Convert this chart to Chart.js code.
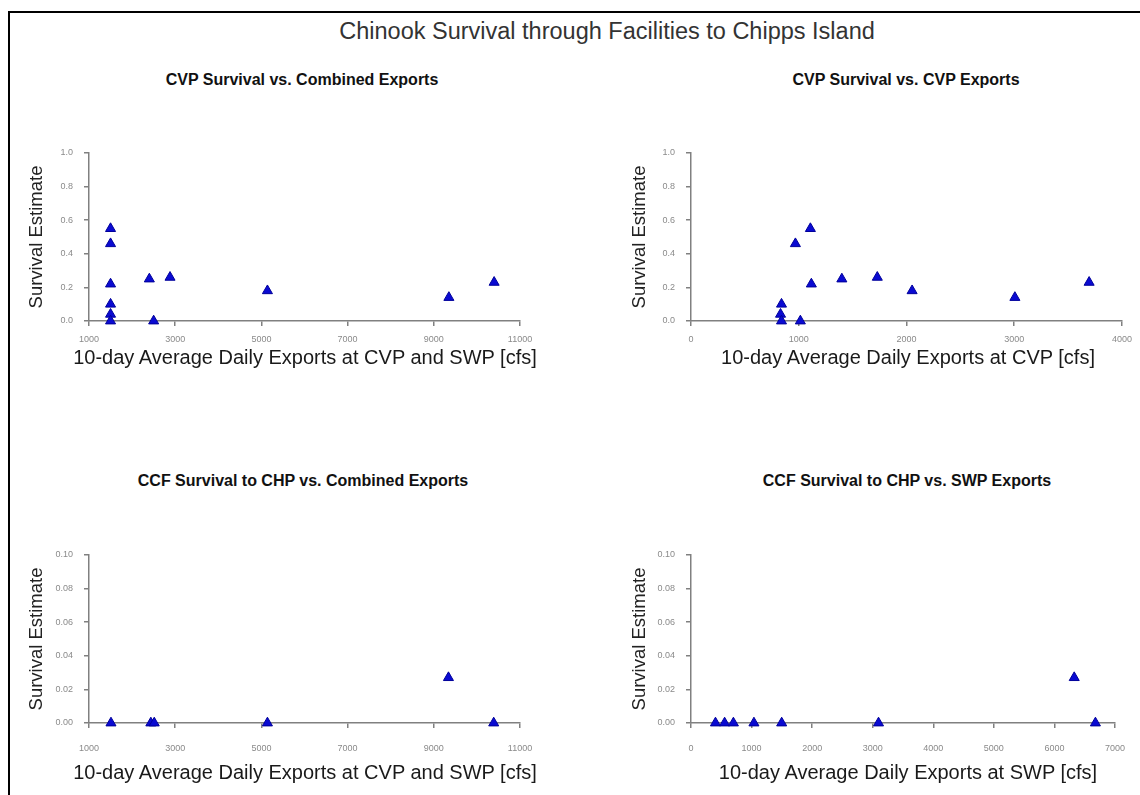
<!DOCTYPE html>
<html>
<head>
<meta charset="utf-8">
<title>Chinook Survival through Facilities to Chipps Island</title>
<script src="https://cdn.jsdelivr.net/npm/chart.js@4.4.1/dist/chart.umd.min.js"></script>
<style>
  html, body { margin: 0; padding: 0; background: #fff; }
  body { width: 1140px; height: 795px; position: relative; overflow: hidden;
         font-family: "Liberation Sans", Arial, sans-serif; }
  #frame { position: absolute; left: 8px; top: 11px; width: 1200px; height: 850px;
           border-top: 2px solid #000; border-left: 2px solid #000; }
  .t { position: absolute; white-space: nowrap; line-height: 1; transform: translateX(-50%); }
  #main { left: 607px; top: 20px; font-size: 23.5px; color: #333; }
  .sub { font-size: 16px; font-weight: bold; color: #111; }
  .xt { font-size: 20px; color: #1a1a1a; }
  .panel { position: absolute; }
</style>
</head>
<body>
<div id="frame"></div>
<div class="t" id="main">Chinook Survival through Facilities to Chipps Island</div>
<div class="t sub" style="left:302px; top:72px;">CVP Survival vs. Combined Exports</div>
<div class="t sub" style="left:906px; top:72px;">CVP Survival vs. CVP Exports</div>
<div class="t sub" style="left:303px; top:473px;">CCF Survival to CHP vs. Combined Exports</div>
<div class="t sub" style="left:907px; top:473px;">CCF Survival to CHP vs. SWP Exports</div>

<div class="panel" style="left:0px; top:130px; width:560px; height:240px;"><canvas id="p1"></canvas></div>
<div class="panel" style="left:570px; top:130px; width:570px; height:240px;"><canvas id="p2"></canvas></div>
<div class="panel" style="left:0px; top:532px; width:560px; height:253px;"><canvas id="p3"></canvas></div>
<div class="panel" style="left:570px; top:532px; width:570px; height:253px;"><canvas id="p4"></canvas></div>

<div class="t xt" id="xt1" style="left:305px; top:347px;"></div>
<div class="t xt" id="xt2" style="left:908px; top:347px;"></div>
<div class="t xt" id="xt3" style="left:305px; top:762px;"></div>
<div class="t xt" id="xt4" style="left:908px; top:762px;"></div>

<script>
// CVP release groups: survival estimate with 10-day average exports
const cvpSurvival     = [0.55, 0.46, 0.22, 0.10, 0.04, 0.00, 0.25, 0.00, 0.26, 0.18, 0.14, 0.23];
const cvpCombinedExp  = [1500, 1500, 1500, 1500, 1500, 1500, 2400, 2500, 2880, 5140, 9350, 10400];
const cvpOnlyExp      = [1108, 969, 1117, 840, 831, 840, 1400, 1015, 1729, 2052, 3006, 3695];

// CCF release groups: survival to Chipps Island
const ccfCombinedSurvival = [0.000, 0.000, 0.000, 0.000, 0.027, 0.000];
const ccfCombinedExp      = [1510, 2435, 2514, 5140, 9340, 10390];
const ccfSwpSurvival      = [0.000, 0.000, 0.000, 0.000, 0.000, 0.000, 0.027, 0.000];
const ccfSwpExp           = [404, 555, 700, 1039, 1497, 3096, 6327, 6677];

const yTitle = 'Survival Estimate';
const xTitleCombined = '10-day Average Daily Exports at CVP and SWP [cfs]';
const xTitleCvp = '10-day Average Daily Exports at CVP [cfs]';
const xTitleSwp = '10-day Average Daily Exports at SWP [cfs]';

// x-axis captions are wider than the plot areas, so they are laid out as page text
document.getElementById('xt1').textContent = xTitleCombined;
document.getElementById('xt2').textContent = xTitleCvp;
document.getElementById('xt3').textContent = xTitleCombined;
document.getElementById('xt4').textContent = xTitleSwp;

const FONT = '"Liberation Sans", Arial, sans-serif';
const AXIS = '#808080';

function pairs(xs, ys) {
  return xs.map((x, i) => ({ x: x, y: ys[i] }));
}

function scatterPanel(id, xs, ys, o) {
  new Chart(document.getElementById(id), {
    type: 'scatter',
    data: {
      datasets: [{
        data: pairs(xs, ys),
        pointStyle: 'triangle',
        pointRadius: 5.8,
        pointHoverRadius: 5.8,
        backgroundColor: '#0a0ad2',
        borderColor: '#00009a',
        borderWidth: 1,
        clip: false
      }]
    },
    options: {
      responsive: true,
      maintainAspectRatio: false,
      animation: false,
      events: [],
      layout: { padding: { top: 23, right: o.padRight, left: 0, bottom: 0 } },
      plugins: { legend: { display: false }, tooltip: { enabled: false } },
      scales: {
        x: {
          type: 'linear',
          min: o.xMin, max: o.xMax,
          ticks: { stepSize: o.xStep, autoSkip: false, maxRotation: 0,
                   padding: o.xTickPad, color: '#8a8a8a',
                   font: { family: FONT, size: 9 },
                   callback: v => String(v) },
          grid: { drawOnChartArea: false, drawTicks: true, tickLength: 5,
                  color: AXIS, lineWidth: 1.5 },
          border: { display: true, color: AXIS, width: 1.5 },
          title: { display: false },
          afterFit: s => { s.height = o.xH; }
        },
        y: {
          type: 'linear',
          min: 0, max: o.yMax,
          ticks: { stepSize: o.yStep, padding: 11, color: '#8a8a8a',
                   font: { family: FONT, size: 9 },
                   callback: v => v.toFixed(o.yDec) },
          grid: { drawOnChartArea: false, drawTicks: true, tickLength: 5,
                  color: AXIS, lineWidth: 1.5 },
          border: { display: true, color: AXIS, width: 1.5 },
          title: { display: true, text: yTitle, color: '#222',
                   font: { family: FONT, size: 18.5 },
                   padding: { top: o.yTitlePad, bottom: 0 } },
          afterFit: s => { s.width = o.yW; }
        }
      }
    }
  });
}

scatterPanel('p1', cvpCombinedExp, cvpSurvival, {
  xMin: 1000, xMax: 11000, xStep: 2000, yMax: 1.0, yStep: 0.2, yDec: 1,
  yW: 89, xH: 49, padRight: 40, xTickPad: 8, yTitlePad: 26
});
scatterPanel('p2', cvpOnlyExp, cvpSurvival, {
  xMin: 0, xMax: 4000, xStep: 1000, yMax: 1.0, yStep: 0.2, yDec: 1,
  yW: 121, xH: 49, padRight: 15, xTickPad: 8, yTitlePad: 59
});
scatterPanel('p3', ccfCombinedExp, ccfCombinedSurvival, {
  xMin: 1000, xMax: 11000, xStep: 2000, yMax: 0.10, yStep: 0.02, yDec: 2,
  yW: 89, xH: 62, padRight: 40, xTickPad: 15, yTitlePad: 26
});
scatterPanel('p4', ccfSwpExp, ccfSwpSurvival, {
  xMin: 0, xMax: 7000, xStep: 1000, yMax: 0.10, yStep: 0.02, yDec: 2,
  yW: 121, xH: 62, padRight: 15, xTickPad: 15, yTitlePad: 59
});
</script>
</body>
</html>
